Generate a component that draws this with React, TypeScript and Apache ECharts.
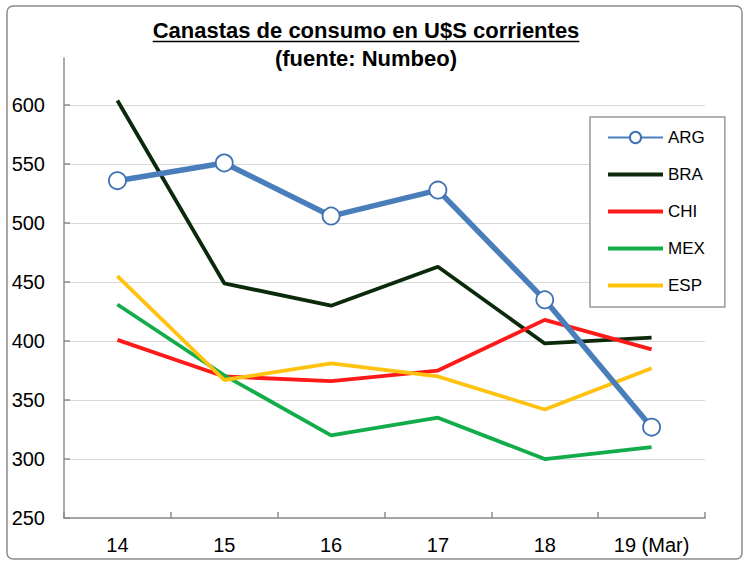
import React, { useEffect, useRef } from "react";
import * as echarts from "echarts";

const categories = ["14", "15", "16", "17", "18", "19 (Mar)"];
const yTicks = [250, 300, 350, 400, 450, 500, 550, 600];
const argValues = [536, 551, 506, 528, 435, 327];
const braValues = [604, 449, 430, 463, 398, 403];
const chiValues = [401, 370, 366, 375, 418, 393];
const mexValues = [431, 371, 320, 335, 300, 310];
const espValues = [455, 367, 381, 370, 342, 377];

const TITLE1 = "Canastas de consumo en U$S corrientes";
const TITLE2 = "(fuente: Numbeo)";
const FONT = '"Liberation Sans", Arial, sans-serif';
const BAR_ICON = "path://M0,0L55,0L55,4L0,4Z";

function measure(text: string, font: string): number {
  const c = document.createElement("canvas");
  const ctx = c.getContext("2d");
  if (!ctx) return text.length * 11;
  ctx.font = font;
  return ctx.measureText(text).width;
}

export default function App() {
  const ref = useRef<HTMLDivElement>(null);
  useEffect(() => {
    if (!ref.current) return;
    const chart = echarts.init(ref.current, undefined, { renderer: "svg" });
    const cx = 366;
    const w1 = measure(TITLE1, `bold 22px ${FONT}`);
    const lineBase = {
      type: "line",
      symbol: "none",
      smooth: false,
      clip: false,
      lineStyle: { width: 4 },
    };
    const colors: Record<string, string> = {
      BRA: "#0b2a0b",
      CHI: "#ff1a1a",
      MEX: "#12ad4a",
      ESP: "#ffc20e",
    };
    const legendData: any[] = [
      { name: "ARG" },
      ...["BRA", "CHI", "MEX", "ESP"].map((n) => ({
        name: n,
        icon: BAR_ICON,
        itemStyle: { color: colors[n], borderWidth: 0 },
      })),
    ];
    chart.setOption({
      animation: false,
      backgroundColor: "#ffffff",
      textStyle: { fontFamily: FONT },
      grid: { left: 64, right: 45, top: 58, bottom: 50, containLabel: false },
      graphic: [
        {
          type: "rect",
          shape: { x: 7, y: 6, width: 735, height: 553, r: 6 },
          style: { fill: "none", stroke: "#8c8c8c", lineWidth: 1.5 },
          z: 0,
        },
        {
          type: "text",
          x: cx,
          y: 30,
          style: {
            text: TITLE1,
            font: `bold 22px ${FONT}`,
            fill: "#000",
            textAlign: "center",
            textVerticalAlign: "middle",
          },
        },
        {
          type: "line",
          shape: { x1: cx - w1 / 2, y1: 41.5, x2: cx + w1 / 2, y2: 41.5 },
          style: { stroke: "#000", lineWidth: 1.5 },
        },
        {
          type: "text",
          x: cx,
          y: 58,
          style: {
            text: TITLE2,
            font: `bold 22px ${FONT}`,
            fill: "#000",
            textAlign: "center",
            textVerticalAlign: "middle",
          },
        },
      ],
      legend: {
        orient: "vertical",
        left: 590,
        top: 117,
        padding: [12, 20, 13, 17],
        itemWidth: 55,
        itemHeight: 14,
        itemGap: 20,
        symbolKeepAspect: true,
        borderColor: "#999",
        borderWidth: 1.5,
        backgroundColor: "#fff",
        textStyle: { fontSize: 17, color: "#000", fontFamily: FONT },
        data: legendData,
      },
      xAxis: {
        type: "category",
        data: categories,
        boundaryGap: true,
        axisLine: { lineStyle: { color: "#8c8c8c", width: 1.5 } },
        axisTick: { show: true, inside: true, length: 6, lineStyle: { color: "#8c8c8c", width: 1.5 } },
        axisLabel: { fontSize: 20, color: "#000", margin: 17, fontFamily: FONT },
        splitLine: { show: false },
      },
      yAxis: {
        type: "value",
        min: 250,
        max: 640,
        interval: 50,
        axisLine: { show: true, lineStyle: { color: "#8c8c8c", width: 1.5 } },
        axisTick: {
          show: true,
          inside: true,
          length: 6,
          customValues: yTicks,
          lineStyle: { color: "#8c8c8c", width: 1.5 },
        },
        axisLabel: {
          fontSize: 20,
          color: "#000",
          margin: 19,
          fontFamily: FONT,
          customValues: yTicks,
        },
        splitLine: {
          show: true,
          lineStyle: { color: "#d9d9d9", width: 1 },
        },
      },
      series: [
        {
          ...lineBase,
          name: "ARG",
          data: argValues,
          symbol: "circle",
          symbolSize: 17,
          showSymbol: true,
          z: 5,
          itemStyle: { color: "#ffffff", borderColor: "#3f72b4", borderWidth: 1.8 },
          lineStyle: { width: 5.5, color: "#4a7ebb" },
        },
        {
          ...lineBase,
          name: "BRA",
          data: braValues,
          z: 3,
          itemStyle: { color: colors.BRA },
          lineStyle: { width: 3.8, color: colors.BRA },
        },
        {
          ...lineBase,
          name: "CHI",
          data: chiValues,
          z: 3,
          itemStyle: { color: colors.CHI },
          lineStyle: { width: 3.8, color: colors.CHI },
        },
        {
          ...lineBase,
          name: "MEX",
          data: mexValues,
          z: 3,
          itemStyle: { color: colors.MEX },
          lineStyle: { width: 3.8, color: colors.MEX },
        },
        {
          ...lineBase,
          name: "ESP",
          data: espValues,
          z: 3,
          itemStyle: { color: colors.ESP },
          lineStyle: { width: 3.8, color: colors.ESP },
        },
      ],
    });
    return () => chart.dispose();
  }, []);
  return (
    <div
      ref={ref}
      style={{ position: "fixed", left: 0, top: 0, width: 750, height: 568, background: "#fff" }}
    />
  );
}
